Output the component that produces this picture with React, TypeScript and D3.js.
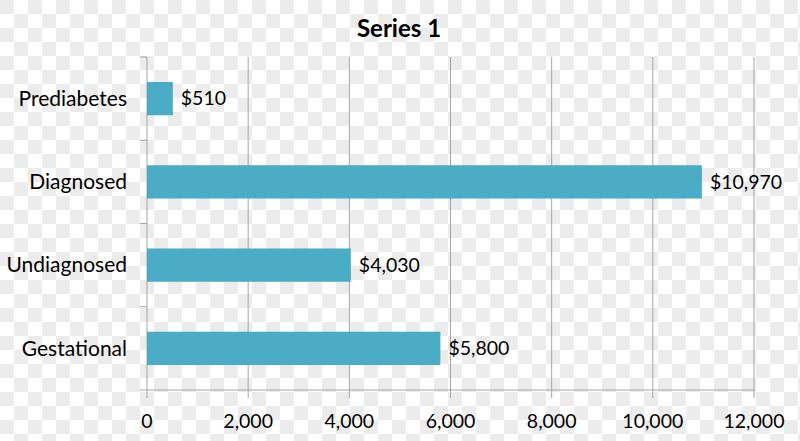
import React from "react";
import * as d3 from "d3";

const categories = ["Prediabetes", "Diagnosed", "Undiagnosed", "Gestational"];
const values = [510, 10970, 4030, 5800];
const xTicks = [0, 2000, 4000, 6000, 8000, 10000, 12000];
const title = "Series 1";

const W = 800;
const H = 441;
const margin = { left: 147, right: 46, top: 57, bottom: 51 };
const FONT = "Lato, 'Open Sans', sans-serif";

export default function App() {
  const x = d3.scaleLinear().domain([0, 12000]).range([margin.left, W - margin.right]);
  const y = d3
    .scaleBand<string>()
    .domain(categories)
    .range([margin.top, H - margin.bottom])
    .paddingInner(0.6)
    .paddingOuter(0.3);
  const band = d3.scaleBand<string>().domain(categories).range([margin.top, H - margin.bottom]);
  const fmt = d3.format(",");
  const y0 = margin.top;
  const y1 = H - margin.bottom;
  const grid = "#a6a6a6";

  return (
    <svg
      width={W}
      height={H}
      style={{ position: "absolute", left: 0, top: 0, display: "block" }}
      fontFamily={FONT}
    >
      <defs>
        <pattern id="checker" width={28} height={28} patternUnits="userSpaceOnUse">
          <rect width={28} height={28} fill="#ffffff" />
          <rect x={0} y={0} width={14} height={14} fill="#ececec" />
          <rect x={14} y={14} width={14} height={14} fill="#ececec" />
        </pattern>
      </defs>
      <rect width={W} height={H} fill="url(#checker)" />

      <text x={399} y={37} textAnchor="middle" fontSize={24} fontWeight="bold" fill="#000">
        {title}
      </text>

      {xTicks.map((t) => (
        <g key={t}>
          {t !== 0 && (
            <line x1={x(t)} x2={x(t)} y1={y0} y2={y1 + 8} stroke={grid} strokeWidth={1} />
          )}
          <text x={x(t)} y={428} textAnchor="middle" fontSize={19.5} fill="#000">
            {fmt(t)}
          </text>
        </g>
      ))}

      <line x1={margin.left - 7} x2={x(12000)} y1={y1} y2={y1} stroke={grid} strokeWidth={1} />
      <line x1={margin.left} x2={margin.left} y1={y0} y2={y1 + 8} stroke={grid} strokeWidth={1} />
      {categories.map((c) => (
        <line
          key={"t" + c}
          x1={margin.left - 7}
          x2={margin.left}
          y1={band(c)!}
          y2={band(c)!}
          stroke={grid}
          strokeWidth={1}
        />
      ))}

      {categories.map((c, i) => {
        const cy = y(c)! + y.bandwidth() / 2;
        return (
          <g key={c}>
            <rect
              x={x(0)}
              y={y(c)!}
              width={x(values[i]) - x(0)}
              height={y.bandwidth()}
              fill="#4bacc6"
            />
            <text x={127} y={cy} dy="0.35em" textAnchor="end" fontSize={21} fill="#000">
              {c}
            </text>
            <text x={x(values[i]) + 8} y={cy} dy="0.35em" textAnchor="start" fontSize={19.5} fill="#000">
              {"$" + fmt(values[i])}
            </text>
          </g>
        );
      })}
    </svg>
  );
}
